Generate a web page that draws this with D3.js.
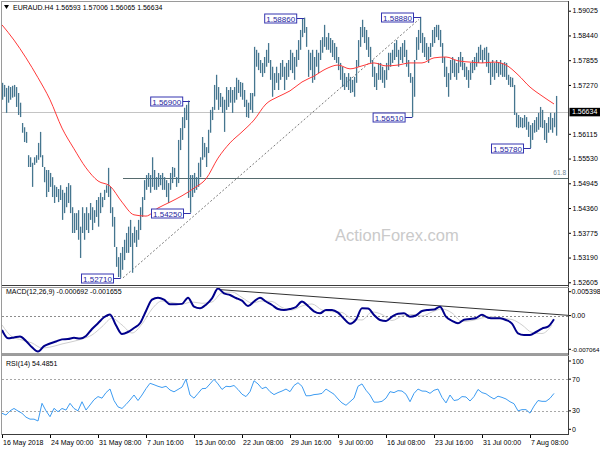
<!DOCTYPE html>
<html><head><meta charset="utf-8">
<script src="https://cdn.jsdelivr.net/npm/d3@7"></script>
<style>html,body{margin:0;padding:0;background:#fff;}svg{display:block;}</style>
</head><body><svg id="c" width="600" height="450"></svg>
<script>
// ---------- DATA ----------
const symbolTitle = "EURAUD.H4";
const lastOHLC = [1.56593, 1.57006, 1.56065, 1.56634];
const priceHigh = [
1.5732,1.5727,1.5720,1.5725,1.5722,1.5725,1.5727,1.5722,1.5708,1.5685,
1.5637,1.5627,1.5616,1.5561,1.5556,1.5543,1.5556,1.5561,1.5590,1.5616,
1.5561,1.5533,1.5526,1.5526,1.5519,1.5509,1.5490,1.5486,1.5481,1.5490,
1.5479,1.5472,1.5486,1.5495,1.5490,1.5438,1.5424,1.5424,1.5431,1.5392,
1.5438,1.5424,1.5438,1.5424,1.5448,1.5438,1.5431,1.5455,1.5462,1.5472,
1.5462,1.5479,1.5490,1.5531,1.5486,1.5438,1.5415,1.5344,1.5320,1.5330,
1.5344,1.5361,1.5377,1.5392,1.5408,1.5377,1.5392,1.5384,1.5408,1.5438,
1.5462,1.5502,1.5514,1.5519,1.5514,1.5556,1.5526,1.5509,1.5519,1.5514,
1.5519,1.5509,1.5502,1.5495,1.5519,1.5533,1.5531,1.5509,1.5597,1.5625,
1.5651,1.5673,1.5680,1.5690,1.5514,1.5514,1.5519,1.5509,1.5543,1.5556,
1.5604,1.5590,1.5580,1.5621,1.5668,1.5675,1.5727,1.5751,1.5722,1.5708,
1.5699,1.5692,1.5722,1.5715,1.5722,1.5715,1.5722,1.5744,1.5739,1.5734,
1.5732,1.5715,1.5692,1.5685,1.5708,1.5708,1.5817,1.5810,1.5803,1.5786,
1.5779,1.5793,1.5810,1.5826,1.5786,1.5770,1.5755,1.5770,1.5755,1.5779,
1.5786,1.5770,1.5779,1.5786,1.5810,1.5803,1.5793,1.5810,1.5833,1.5857,
1.5885,1.5886,1.5864,1.5810,1.5803,1.5810,1.5793,1.5810,1.5803,1.5833,
1.5840,1.5869,1.5840,1.5850,1.5838,1.5833,1.5826,1.5817,1.5793,1.5779,
1.5770,1.5755,1.5746,1.5755,1.5746,1.5739,1.5746,1.5786,1.5833,1.5864,
1.5881,1.5864,1.5857,1.5840,1.5817,1.5786,1.5770,1.5755,1.5779,1.5779,
1.5770,1.5762,1.5779,1.5803,1.5803,1.5810,1.5826,1.5833,1.5810,1.5817,
1.5826,1.5833,1.5810,1.5786,1.5755,1.5746,1.5786,1.5840,1.5857,1.5888,
1.5850,1.5840,1.5826,1.5817,1.5826,1.5857,1.5864,1.5869,1.5869,1.5857,
1.5826,1.5793,1.5770,1.5755,1.5786,1.5793,1.5786,1.5779,1.5793,1.5805,
1.5793,1.5779,1.5770,1.5762,1.5779,1.5786,1.5793,1.5803,1.5817,1.5822,
1.5810,1.5815,1.5817,1.5803,1.5779,1.5786,1.5779,1.5786,1.5779,1.5786,
1.5779,1.5781,1.5779,1.5751,1.5746,1.5744,1.5727,1.5661,1.5656,1.5651,
1.5649,1.5656,1.5651,1.5640,1.5632,1.5637,1.5644,1.5651,1.5661,1.5675,
1.5668,1.5644,1.5637,1.5651,1.5661,1.5649,1.5661,1.5701];
const priceLow = [
1.5692,1.5699,1.5661,1.5685,1.5692,1.5697,1.5699,1.5675,1.5656,1.5651,
1.5614,1.5592,1.5590,1.5533,1.5533,1.5486,1.5538,1.5543,1.5550,1.5556,
1.5533,1.5497,1.5462,1.5474,1.5486,1.5462,1.5448,1.5462,1.5450,1.5455,
1.5408,1.5424,1.5438,1.5448,1.5424,1.5377,1.5377,1.5384,1.5361,1.5318,
1.5377,1.5361,1.5384,1.5377,1.5408,1.5384,1.5401,1.5415,1.5392,1.5424,
1.5438,1.5455,1.5472,1.5462,1.5424,1.5392,1.5344,1.5297,1.5273,1.5271,
1.5290,1.5313,1.5330,1.5330,1.5344,1.5283,1.5354,1.5344,1.5361,1.5384,
1.5415,1.5455,1.5479,1.5486,1.5472,1.5486,1.5479,1.5479,1.5486,1.5490,
1.5479,1.5479,1.5462,1.5448,1.5479,1.5495,1.5509,1.5486,1.5495,1.5573,
1.5597,1.5625,1.5644,1.5460,1.5425,1.5462,1.5472,1.5479,1.5486,1.5509,
1.5550,1.5556,1.5533,1.5566,1.5614,1.5644,1.5668,1.5692,1.5668,1.5675,
1.5661,1.5616,1.5668,1.5675,1.5685,1.5661,1.5685,1.5692,1.5708,1.5699,
1.5692,1.5675,1.5651,1.5649,1.5668,1.5661,1.5700,1.5770,1.5762,1.5755,
1.5746,1.5755,1.5770,1.5779,1.5739,1.5699,1.5715,1.5732,1.5715,1.5739,
1.5746,1.5715,1.5739,1.5746,1.5762,1.5755,1.5739,1.5770,1.5786,1.5810,
1.5840,1.5850,1.5817,1.5746,1.5762,1.5732,1.5739,1.5770,1.5755,1.5786,
1.5803,1.5817,1.5810,1.5810,1.5803,1.5793,1.5786,1.5779,1.5762,1.5739,
1.5722,1.5715,1.5722,1.5715,1.5708,1.5710,1.5699,1.5732,1.5770,1.5817,
1.5840,1.5826,1.5810,1.5793,1.5779,1.5746,1.5722,1.5715,1.5739,1.5739,
1.5732,1.5720,1.5739,1.5762,1.5770,1.5779,1.5786,1.5793,1.5770,1.5786,
1.5779,1.5793,1.5770,1.5746,1.5732,1.5651,1.5699,1.5786,1.5810,1.5826,
1.5803,1.5793,1.5786,1.5779,1.5793,1.5817,1.5826,1.5840,1.5833,1.5817,
1.5779,1.5746,1.5722,1.5699,1.5739,1.5755,1.5746,1.5739,1.5755,1.5770,
1.5762,1.5746,1.5739,1.5720,1.5739,1.5755,1.5762,1.5770,1.5779,1.5786,
1.5779,1.5786,1.5770,1.5755,1.5727,1.5746,1.5739,1.5755,1.5746,1.5751,
1.5746,1.5746,1.5739,1.5727,1.5722,1.5722,1.5656,1.5627,1.5625,1.5627,
1.5625,1.5627,1.5621,1.5604,1.5578,1.5597,1.5614,1.5616,1.5621,1.5627,
1.5625,1.5597,1.5590,1.5614,1.5621,1.5614,1.5627,1.5607];
// moving average, one value every 6 columns
const maValues = [
1.5869,1.5833,1.5791,1.5744,1.5692,1.5625,1.5576,1.5531,1.5500,1.5488,
1.5450,1.5420,1.5417,1.5436,1.5450,1.5465,1.5483,1.5505,1.5554,1.5590,
1.5616,1.5644,1.5682,1.5699,1.5713,1.5734,1.5748,1.5765,1.5774,1.5765,
1.5772,1.5779,1.5772,1.5774,1.5779,1.5779,1.5791,1.5793,1.5784,1.5781,
1.5779,1.5781,1.5774,1.5751,1.5722,1.5701,1.5682];
// MACD main line, one value every 3 columns
const macdValues = [
-0.00272,-0.00429,-0.00413,-0.00395,-0.00480,-0.00598,-0.00680,-0.00578,-0.00527,-0.00489,
-0.00449,-0.00442,-0.00419,-0.00434,-0.00385,-0.00253,-0.00145,-0.00032,0.00021,-0.00183,
-0.00347,-0.00310,-0.00234,-0.00145,0.00087,0.00300,0.00338,0.00300,0.00213,0.00213,
0.00221,0.00338,0.00170,0.00138,0.00206,0.00325,0.00510,0.00419,0.00389,0.00332,
0.00281,0.00181,0.00266,0.00338,0.00266,0.00200,0.00125,0.00106,0.00125,0.00162,
0.00266,0.00181,0.00081,0.00043,0.00106,0.00106,0.00055,-0.00059,-0.00153,-0.00076,
0.00138,0.00134,0.00011,-0.00083,-0.00102,-0.00021,0.00036,0.00043,-0.00021,0.00002,
0.00087,0.00106,0.00113,0.00168,-0.00021,-0.00098,-0.00145,-0.00077,-0.00064,-0.00045,
0.00015,-0.00040,-0.00051,-0.00051,-0.00083,-0.00151,-0.00334,-0.00366,-0.00366,-0.00310,
-0.00245,-0.00210,-0.00069];
// MACD signal line, one value every 5 columns
const signalValues = [
-0.00177,-0.00398,-0.00461,-0.00517,-0.00612,-0.00587,-0.00536,-0.00493,-0.00442,-0.00366,
-0.00210,-0.00051,-0.00177,-0.00329,-0.00159,0.00125,0.00276,0.00247,0.00219,0.00257,
0.00232,0.00257,0.00427,0.00446,0.00342,0.00238,0.00276,0.00266,0.00153,0.00106,
0.00181,0.00219,0.00106,0.00074,0.00059,-0.00064,-0.00083,0.00068,0.00021,-0.00093,
-0.00008,0.00021,-0.00008,0.00068,0.00125,0.00049,-0.00111,-0.00093,-0.00045,-0.00021,
-0.00051,-0.00074,-0.00177,-0.00319,-0.00338,-0.00180];
// RSI(14), one value every 2 columns
const rsiValues = [
26.9,24.7,30,33,29.8,26.9,22,19.5,19.5,17.2,39.5,30,22.6,33.2,28.9,33,31,39.5,33,30,
41.5,31,37.4,44,48,46,53,57.6,43,35,33,38,43.7,50,43,50,58,64.8,63,61,
59.5,61,56.3,54,57,60,70,50,46,52,58,58.4,64,69.8,64,57,61,60.5,62,57,
51,48,54.2,68,64,58,60,54.2,50.5,53,55,57.5,54.2,62,65.5,61,49,49.1,50.5,51,
52,57.5,54.2,51,45,40,37,41.5,46,61,64,56,50,41,41,42,46,54.2,53,55.5,
55,51,41.5,52,57.5,55,54.8,52.1,56,57.5,47,40,50,43,44,48,47.5,42.4,48,57,
53,51.5,47.9,45,48.5,47,45,41.5,39,30,31.5,31.5,27.1,36,43,42,42,45.8,52];
const maStep = 6, macdStep = 3, signalStep = 5, rsiStep = 2;
const priceTicks = [1.59025,1.58440,1.57855,1.57270,1.56115,1.55530,1.54945,1.54360,1.53775,1.53190,1.52605];
const macdTicks = [0.005398, 0, -0.007064];
const macdTickText = ["0.005398","0.00","-0.007064"];
const rsiTicks = [100, 70, 30, 0];
const rsiLevels = [70, 30];
const dateLabels = ["16 May 2018","24 May 00:00","31 May 08:00","7 Jun 16:00","15 Jun 00:00","22 Jun 08:00",
  "29 Jun 16:00","9 Jul 00:00","16 Jul 08:00","23 Jul 16:00","31 Jul 00:00","7 Aug 08:00"];
const dateEvery = 24;
const markPrice = [1.5271, 1.5425, 1.5690, 1.5886, 1.5888, 1.5651, 1.5578];
const markCol = [59.4, 94.4, 94, 151, 209.4, 205.2, 264.4];
const trendCols = [60.5, 208.5], trendPrices = [1.5271, 1.5882];
const fibLevel = 1.55067, fibStartCol = 60.5, fibText = "61.8";
const macdTrendCols = [109, 283], macdTrendVals = [0.0049, 0.00005];
const rsiLast = "54.4851";
const macdLast = ["-0.000692", "-0.001655"];

// ---------- DRAW ----------
const svg = d3.select("#c");
const font = "Liberation Sans, Arial, sans-serif";
const L = 2, R = 568;
const x = d3.scaleLinear().domain([0, 283]).range([L, R]);
const yP = d3.scaleLinear().domain([1.52541, 1.59254]).range([285, 1]);
const yM = d3.scaleLinear().domain([-0.007064, 0.005398]).range([353, 287]);
const yR = d3.scaleLinear().domain([0, 100]).range([434.6, 355.4]);

// watermark
svg.append("text").attr("x", 335).attr("y", 241).attr("font-family", font)
  .attr("font-size", 16.5).attr("fill", "#cacaca").text("ActionForex.com");

const main = svg.append("g");
// current price line
main.append("line").attr("x1", L).attr("x2", R)
  .attr("y1", Math.round(yP(lastOHLC[3])) + 0.5).attr("y2", Math.round(yP(lastOHLC[3])) + 0.5)
  .attr("stroke", "#c4c4c4");
// fib 61.8 line
main.append("line").attr("x1", x(fibStartCol)).attr("x2", R)
  .attr("y1", Math.round(yP(fibLevel)) + 0.5).attr("y2", Math.round(yP(fibLevel)) + 0.5)
  .attr("stroke", "#566b6e");
main.append("text").attr("x", R - 2).attr("y", yP(fibLevel) - 3).attr("text-anchor", "end")
  .attr("font-family", font).attr("font-size", 6.5).attr("fill", "#6f8592").text(fibText);
// dashed trend line
main.append("line").attr("x1", x(trendCols[0])).attr("x2", x(trendCols[1]))
  .attr("y1", yP(trendPrices[0])).attr("y2", yP(trendPrices[1]))
  .attr("stroke", "#7a7a7a").attr("stroke-dasharray", "2,2");

// price bars
main.selectAll("line.bar").data(priceHigh).join("line").attr("class", "bar")
  .attr("x1", (d, i) => x(i) + 0.6).attr("x2", (d, i) => x(i) + 0.6)
  .attr("y1", d => yP(d)).attr("y2", (d, i) => yP(priceLow[i]))
  .attr("stroke", "#45768f").attr("stroke-width", 1.3);

// moving average
main.append("path").datum(maValues)
  .attr("d", d3.line().x((d, i) => x(i * maStep)).y(d => yP(d)).curve(d3.curveMonotoneX))
  .attr("fill", "none").attr("stroke", "#ff3a3a").attr("stroke-width", 1);

// swing markers
const mk = main.selectAll("g.mk").data(markPrice).join("g").attr("class", "mk");
mk.append("line").attr("x1", (d, i) => x(markCol[i]) - 7.3).attr("x2", (d, i) => x(markCol[i]))
  .attr("y1", d => Math.round(yP(d)) + 0.5).attr("y2", d => Math.round(yP(d)) + 0.5)
  .attr("stroke", "#2f2fa8");
mk.append("rect").attr("x", (d, i) => x(markCol[i]) - 7.3 - 32).attr("y", d => Math.round(yP(d)) - 4)
  .attr("width", 32).attr("height", 9).attr("fill", "#fff").attr("stroke", "#3434b0");
mk.append("text").attr("x", (d, i) => x(markCol[i]) - 7.3 - 16).attr("y", d => Math.round(yP(d)) + 3.6)
  .attr("text-anchor", "middle").attr("font-family", font).attr("font-size", 8)
  .attr("fill", "#2626a0").text(d => d3.format(".5f")(d));

// header
svg.append("path").attr("d", "M4,5L9,5L6.5,9Z").attr("fill", "#000");
svg.append("text").attr("x", 13).attr("y", 10).attr("font-family", font).attr("font-size", 7)
  .attr("fill", "#000").text(symbolTitle + "  " + lastOHLC.map(d3.format(".5f")).join(" "));

// right price axis
const ax = svg.append("g").attr("transform", `translate(${R},0)`)
  .call(d3.axisRight(yP).tickValues(priceTicks).tickFormat(d3.format(".5f")).tickSize(3).tickPadding(1.5));
ax.select(".domain").remove();
ax.selectAll("text").attr("font-family", font).attr("font-size", 7).attr("fill", "#000");
ax.selectAll("line").attr("stroke", "#000");
svg.append("rect").attr("x", R + 1.5).attr("y", yP(lastOHLC[3]) - 4).attr("width", 31).attr("height", 8.5).attr("fill", "#000");
svg.append("text").attr("x", R + 4).attr("y", yP(lastOHLC[3]) + 2.6).attr("font-family", font)
  .attr("font-size", 7).attr("fill", "#fff").text(d3.format(".5f")(lastOHLC[3]));

// ---------- MACD panel ----------
svg.append("line").attr("x1", L).attr("x2", R).attr("y1", Math.round(yM(0)) + 0.5).attr("y2", Math.round(yM(0)) + 0.5)
  .attr("stroke", "#8c8c8c").attr("stroke-dasharray", "2,2");
svg.append("line").attr("x1", x(macdTrendCols[0])).attr("x2", x(macdTrendCols[1]))
  .attr("y1", yM(macdTrendVals[0])).attr("y2", yM(macdTrendVals[1])).attr("stroke", "#333");
svg.append("path").datum(signalValues)
  .attr("d", d3.line().x((d, i) => x(i * signalStep)).y(d => yM(d)).curve(d3.curveMonotoneX))
  .attr("fill", "none").attr("stroke", "#cfcfcf").attr("stroke-width", 1);
svg.append("path").datum(macdValues)
  .attr("d", d3.line().x((d, i) => x(i * macdStep)).y(d => yM(d)).curve(d3.curveMonotoneX))
  .attr("fill", "none").attr("stroke", "#00008b").attr("stroke-width", 2);
svg.append("text").attr("x", 6).attr("y", 293.5).attr("font-family", font).attr("font-size", 7)
  .attr("fill", "#000").text("MACD(12,26,9) " + macdLast.join(" "));
const macdDy = [4.7, 0, -3.7];
macdTicks.forEach((v, i) => {
  svg.append("line").attr("x1", R).attr("x2", R + 3).attr("y1", yM(v) + macdDy[i]).attr("y2", yM(v) + macdDy[i]).attr("stroke", "#000");
  svg.append("text").attr("x", R + 3.5).attr("y", yM(v) + macdDy[i] + 2.5).attr("font-family", font)
    .attr("font-size", v < 0 ? 6.2 : 7).attr("fill", "#000").text(macdTickText[i]);
});

// ---------- RSI panel ----------
rsiLevels.forEach(v => {
  svg.append("line").attr("x1", L).attr("x2", R).attr("y1", Math.round(yR(v)) + 0.5).attr("y2", Math.round(yR(v)) + 0.5)
    .attr("stroke", "#a8a8a8").attr("stroke-dasharray", "2,2");
});
svg.append("path").datum(rsiValues)
  .attr("d", d3.line().x((d, i) => x(i * rsiStep)).y(d => yR(d)))
  .attr("fill", "none").attr("stroke", "#3d9cf2").attr("stroke-width", 1);
svg.append("text").attr("x", 6).attr("y", 366).attr("font-family", font).attr("font-size", 7)
  .attr("fill", "#000").text("RSI(14) " + rsiLast);
const rsiDy = [5.6, 0, 0, -5.3];
rsiTicks.forEach((v, i) => {
  svg.append("line").attr("x1", R).attr("x2", R + 3).attr("y1", yR(v) + rsiDy[i]).attr("y2", yR(v) + rsiDy[i]).attr("stroke", "#000");
  svg.append("text").attr("x", R + 4).attr("y", yR(v) + rsiDy[i] + 2.5).attr("font-family", font)
    .attr("font-size", 7).attr("fill", "#000").text(v);
});

// ---------- frames ----------
const fr = svg.append("g").attr("fill", "none");
fr.append("line").attr("x1", L).attr("x2", R).attr("y1", 1.5).attr("y2", 1.5).attr("stroke", "#9a9a9a");
fr.append("line").attr("x1", L - 0.5).attr("x2", L - 0.5).attr("y1", 1).attr("y2", 435).attr("stroke", "#9a9a9a");
fr.append("line").attr("x1", R + 0.5).attr("x2", R + 0.5).attr("y1", 1).attr("y2", 435).attr("stroke", "#3c3c3c");
[[285, 287.5], [353.5, 355.5]].forEach(p => {
  fr.append("line").attr("x1", L).attr("x2", R + 1).attr("y1", p[0] + 0.5).attr("y2", p[0] + 0.5).attr("stroke", "#3c3c3c");
  fr.append("line").attr("x1", L).attr("x2", R + 1).attr("y1", p[1]).attr("y2", p[1]).attr("stroke", "#9a9a9a");
});
fr.append("line").attr("x1", L).attr("x2", R + 1).attr("y1", 434.5).attr("y2", 434.5).attr("stroke", "#3c3c3c");

// ---------- date axis ----------
const dg = svg.append("g");
dateLabels.forEach((t, i) => {
  const cx = x(i * dateEvery);
  dg.append("line").attr("x1", cx + 0.5).attr("x2", cx + 0.5).attr("y1", 435).attr("y2", 438).attr("stroke", "#000");
  dg.append("text").attr("x", cx + 1).attr("y", 444.5).attr("font-family", font).attr("font-size", 7)
    .attr("fill", "#000").text(t);
});
</script></body></html>
